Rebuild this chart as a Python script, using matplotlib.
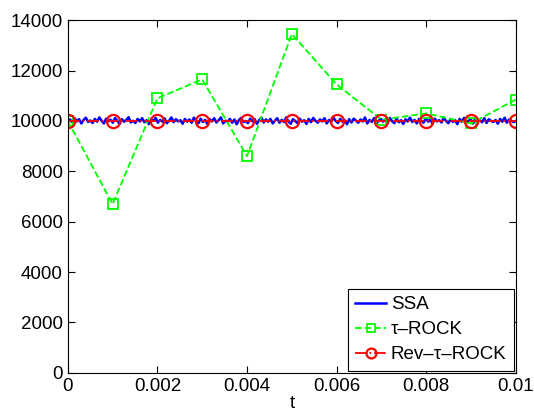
import matplotlib.pyplot as plt
import numpy as np

plt.rcParams['font.family'] = ['Liberation Sans', 'DejaVu Sans']

# coarse time grid for the tau-leaping methods
t_coarse = [0, 0.001, 0.002, 0.003, 0.004, 0.005, 0.006, 0.007, 0.008, 0.009, 0.01]
tau_rock = [10000, 6700, 10900, 11650, 8600, 13450, 11450, 10050, 10300, 9900, 10850]
rev_tau_rock = [10000] * 11

# SSA trajectory (noisy band around 10000)
ssa_vals = [
    10000, 10060, 9950, 10110, 9980, 10070, 9900, 10040, 10130, 9960,
    10020, 9920, 10080, 9970, 10140, 10010, 9900, 10090, 9980, 10050,
    9930, 10120, 10000, 9880, 10070, 9970, 10040, 10150, 9940, 10010,
    9920, 10080, 9980, 10110, 9950, 10030, 9870, 10060, 10000, 10120,
    9930, 10040, 9970, 10100, 9910, 10010, 10140, 9950, 10070, 9980,
    10030, 9890, 10080, 9970, 10060, 9930, 10130, 10000, 9910, 10090,
    9960, 10040, 9880, 10070, 9980, 10110, 9940, 10030, 10140, 9900,
    10010, 9970, 10080, 9930, 10060, 9870, 10040, 10120, 9950, 10000,
    9910, 10090, 9980, 10070, 9890, 10030, 10130, 9940, 10060, 9970,
    10080, 9900, 10010, 10110, 9930, 10040, 9960, 10140, 9980, 9890,
    10070, 10000, 9910, 10090, 9970, 10030, 9880, 10080, 9950, 10120,
    10010, 9930, 10060, 9980, 10110, 9900, 10040, 9960, 10130, 10000,
    9920, 10080, 9970, 10030, 9870, 10070, 9940, 10090, 10010, 9930,
    10060, 9980, 10140, 9900, 10040, 9960, 10110, 9890, 10010, 10080,
    9970, 10060, 9930, 10120, 10000, 9910, 10090, 9950, 10030, 9880,
    10070, 9980, 10130, 9960, 10040, 9900, 10080, 10010, 9930, 10110,
    9970, 10060, 9890, 10090, 9980, 10030, 9940, 10140, 10000, 9910,
    10070, 9960, 10040, 9870, 10080, 9970, 10120, 9930, 10010, 10060,
    9900, 10090, 9980, 10030, 9950, 10110, 9920, 10070, 10000, 9960,
    10040, 9890, 10080, 9970, 10130, 9930, 10060, 10010, 9950, 10000,
]
t_ssa = np.linspace(0, 0.01, len(ssa_vals))

fig = plt.figure(figsize=(5.34, 4.12), dpi=100)
ax = fig.add_axes([0.127, 0.095, 0.839, 0.856])

ax.plot(t_ssa, ssa_vals, color='#0000ff', lw=1.8, label='SSA')
ax.plot(t_coarse, tau_rock, color='#00ff00', ls='--', lw=1.3, marker='s',
        ms=7.5, mfc='none', mec='#00ff00', mew=1.3, label='τ–ROCK')
ax.plot(t_coarse, rev_tau_rock, color='#ff0000', ls='-.', lw=1.3, marker='o',
        ms=9.5, mfc='none', mec='#ff0000', mew=1.6, label='Rev–τ–ROCK')

ax.set_xlim(0, 0.01)
ax.set_ylim(0, 14000)
ax.set_xticks([0, 0.002, 0.004, 0.006, 0.008, 0.01])
ax.set_xticklabels(['0', '0.002', '0.004', '0.006', '0.008', '0.01'])
ax.set_yticks(range(0, 14001, 2000))
ax.tick_params(direction='in', top=True, right=True, labelsize=13.5, length=5, width=0.8)
ax.set_xlabel('t', fontsize=13.5, labelpad=0)

leg = ax.legend(loc='lower right', fontsize=13.5, fancybox=False, framealpha=1,
                edgecolor='black', borderpad=0.4, labelspacing=0.42,
                handlelength=1.65, handletextpad=0.25, borderaxespad=0.1,
                markerscale=0.75)
leg.get_frame().set_linewidth(0.8)

fig.savefig('out.png', dpi=100)
